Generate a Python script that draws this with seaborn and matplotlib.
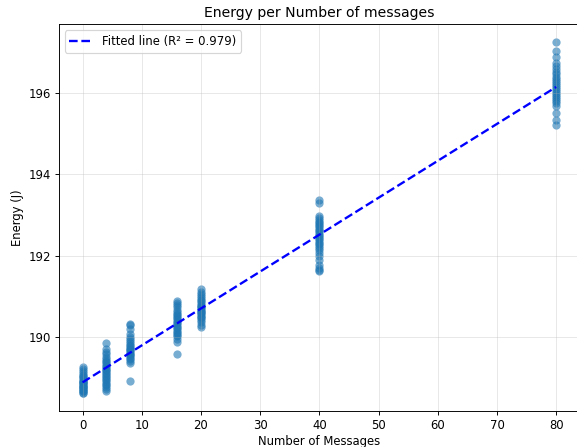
import numpy as np
import pandas as pd
import seaborn as sns
import matplotlib
matplotlib.use("Agg")
import matplotlib.pyplot as plt

messages = [0, 4, 8, 16, 20, 40, 80]
e0 = [189.28, 189.22, 189.17, 189.12, 189.08, 189.05, 189.02, 188.99, 188.96, 188.93, 188.91, 188.89, 188.87,
      188.85, 188.83, 188.81, 188.79, 188.77, 188.75, 188.73, 188.71, 188.69, 188.67, 188.64, 188.62]
e4 = [189.86, 189.70, 189.64, 189.58, 189.52, 189.47, 189.42, 189.38, 189.34, 189.30, 189.26, 189.22, 189.19,
      189.16, 189.13, 189.10, 189.06, 189.02, 188.98, 188.94, 188.90, 188.86, 188.82, 188.77, 188.72, 188.69]
e8 = [190.33, 190.30, 190.20, 190.07, 190.00, 189.95, 189.90, 189.86, 189.82, 189.78, 189.74, 189.71, 189.68,
      189.65, 189.62, 189.59, 189.56, 189.53, 189.50, 189.46, 189.42, 189.37, 188.93]
e16 = [190.89, 190.84, 190.78, 190.73, 190.68, 190.63, 190.58, 190.54, 190.50, 190.46, 190.42, 190.38, 190.34,
       190.30, 190.26, 190.22, 190.18, 190.14, 190.10, 190.06, 190.02, 189.96, 189.88, 189.60]
e20 = [191.18, 191.12, 191.06, 191.01, 190.96, 190.92, 190.88, 190.84, 190.80, 190.77, 190.74, 190.71, 190.68,
       190.65, 190.62, 190.59, 190.56, 190.53, 190.50, 190.46, 190.42, 190.37, 190.30, 190.24]
e40 = [193.36, 193.30, 192.97, 192.92, 192.88, 192.84, 192.80, 192.76, 192.72, 192.68, 192.64, 192.60, 192.56,
       192.52, 192.48, 192.44, 192.40, 192.36, 192.32, 192.28, 192.24, 192.20, 192.14, 192.08, 192.00, 191.90,
       191.78, 191.70, 191.65, 191.63]
e80 = [197.25, 197.02, 196.88, 196.74, 196.65, 196.58, 196.52, 196.46, 196.40, 196.34, 196.29, 196.24, 196.19,
       196.14, 196.09, 196.04, 195.99, 195.94, 195.89, 195.84, 195.79, 195.74, 195.67, 195.50, 195.33, 195.20]

groups = [e0, e4, e8, e16, e20, e40, e80]
xs, ys = [], []
for m, g in zip(messages, groups):
    xs += [m] * len(g)
    ys += g
df = pd.DataFrame({"Number of Messages": xs, "Energy (J)": ys})

slope, intercept = np.polyfit(df["Number of Messages"], df["Energy (J)"], 1)
xline = np.array([min(messages), max(messages)])
yline = slope * xline + intercept

DPI = 84
fig = plt.figure(figsize=(577 / DPI, 447 / DPI), dpi=DPI)
ax = fig.add_axes([0.102, 0.0805, 0.903, 0.865])
sns.scatterplot(data=df, x="Number of Messages", y="Energy (J)", ax=ax,
                color="#1f77b4", alpha=0.6, s=50, linewidth=0)
ax.plot(xline, yline, "b--", linewidth=2, label="Fitted line (R² = 0.979)")
ax.set_title("Energy per Number of messages")
ax.set_xlabel("Number of Messages", labelpad=2)
ax.set_ylabel("Energy (J)")
ax.grid(True, alpha=0.3)
ax.set_yticks([190, 192, 194, 196])
ax.set_xticks([0, 10, 20, 30, 40, 50, 60, 70, 80])
ax.legend(loc="upper left")
fig.savefig("out.png", dpi=DPI)
